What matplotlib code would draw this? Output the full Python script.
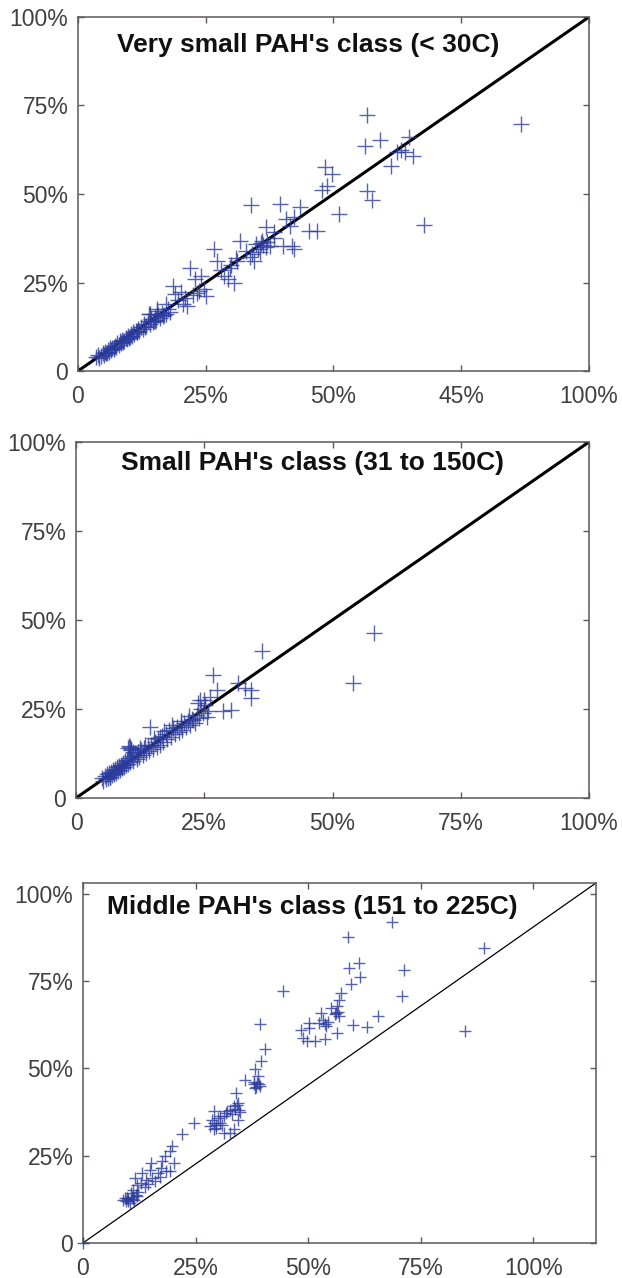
import numpy as np
import matplotlib.pyplot as plt

# 数据：每个面板的散点 (x, y)，按图读数估计
x_very_small = [0.035, 0.040, 0.045, 0.048, 0.050, 0.053, 0.055, 0.058, 0.060, 0.062,
                0.065, 0.067, 0.070, 0.072, 0.075, 0.077, 0.080, 0.082, 0.085, 0.087,
                0.090, 0.093, 0.095, 0.098, 0.100, 0.103, 0.105, 0.108, 0.110, 0.113,
                0.115, 0.118, 0.120, 0.124, 0.127, 0.130, 0.133, 0.137, 0.140, 0.143,
                0.146, 0.150, 0.153, 0.157, 0.160, 0.165, 0.168, 0.172, 0.140, 0.155,
                0.176, 0.180, 0.042, 0.057, 0.071, 0.088, 0.102, 0.116, 0.131, 0.148,
                0.185, 0.201, 0.189, 0.205, 0.173, 0.213, 0.154, 0.138, 0.166, 0.150, 0.195,
                0.220, 0.228, 0.240, 0.251, 0.236, 0.247, 0.232, 0.210, 0.225,
                0.267, 0.273, 0.298, 0.286, 0.306, 0.294, 0.280, 0.300, 0.310,
                0.348, 0.360, 0.368, 0.356, 0.344, 0.337, 0.317, 0.311, 0.329, 0.376,
                0.383, 0.352, 0.362, 0.340, 0.370, 0.358,
                0.339, 0.368, 0.383, 0.395, 0.407, 0.422, 0.415, 0.402, 0.418, 0.422,
                0.434, 0.452, 0.467,
                0.483, 0.498, 0.477, 0.488, 0.510,
                0.566, 0.561, 0.592, 0.566, 0.576,
                0.613, 0.624, 0.648, 0.639, 0.656, 0.632,
                0.677, 0.866]
y_very_small = [0.040, 0.045, 0.042, 0.052, 0.046, 0.055, 0.050, 0.060, 0.054, 0.065,
                0.058, 0.066, 0.063, 0.072, 0.068, 0.078, 0.073, 0.084, 0.079, 0.088,
                0.084, 0.094, 0.089, 0.100, 0.094, 0.105, 0.099, 0.110, 0.104, 0.114,
                0.109, 0.120, 0.114, 0.125, 0.119, 0.133, 0.126, 0.140, 0.133, 0.147,
                0.138, 0.152, 0.145, 0.158, 0.150, 0.165, 0.157, 0.160, 0.160, 0.170,
                0.175, 0.168, 0.036, 0.051, 0.066, 0.081, 0.095, 0.110, 0.124, 0.140,
                0.241, 0.222, 0.217, 0.189, 0.189, 0.184, 0.175, 0.160, 0.156, 0.142, 0.200,
                0.292, 0.259, 0.269, 0.212, 0.226, 0.231, 0.219, 0.205, 0.215,
                0.344, 0.311, 0.292, 0.269, 0.250, 0.259, 0.285, 0.300, 0.320,
                0.358, 0.368, 0.349, 0.335, 0.311, 0.321, 0.368, 0.311, 0.340, 0.354,
                0.377, 0.345, 0.356, 0.330, 0.365, 0.362,
                0.470, 0.406, 0.392, 0.472, 0.429, 0.434, 0.410, 0.354, 0.354, 0.344,
                0.462, 0.396, 0.396,
                0.577, 0.557, 0.511, 0.524, 0.443,
                0.722, 0.635, 0.653, 0.509, 0.484,
                0.580, 0.618, 0.660, 0.618, 0.608, 0.623,
                0.412, 0.698]

x_small = [0.050, 0.053, 0.056, 0.058, 0.060, 0.062, 0.064, 0.066, 0.068, 0.070,
           0.072, 0.074, 0.076, 0.078, 0.080, 0.082, 0.084, 0.086, 0.088, 0.090,
           0.092, 0.094, 0.096, 0.098, 0.100, 0.102, 0.104, 0.106, 0.105, 0.108,
           0.110, 0.112, 0.115, 0.118, 0.120, 0.123, 0.126, 0.130, 0.133, 0.136,
           0.140, 0.144, 0.143, 0.147, 0.150, 0.154, 0.157, 0.160, 0.164, 0.163,
           0.168, 0.170, 0.175, 0.178, 0.182, 0.186, 0.190, 0.193, 0.196, 0.200,
           0.204, 0.207, 0.211, 0.215, 0.218, 0.222, 0.226, 0.229, 0.232, 0.236,
           0.240, 0.242, 0.244, 0.248, 0.252, 0.255, 0.258, 0.268, 0.275, 0.286,
           0.302, 0.316, 0.329, 0.341, 0.341, 0.363, 0.540, 0.580,
           0.101, 0.104, 0.108, 0.112, 0.118, 0.125, 0.135, 0.152, 0.172, 0.188,
           0.205, 0.220, 0.238, 0.250, 0.262, 0.090, 0.075, 0.066]
y_small = [0.055, 0.048, 0.062, 0.052, 0.066, 0.056, 0.070, 0.060, 0.074, 0.064,
           0.078, 0.067, 0.082, 0.071, 0.086, 0.075, 0.090, 0.079, 0.094, 0.083,
           0.098, 0.087, 0.103, 0.092, 0.108, 0.096, 0.112, 0.100, 0.144, 0.135,
           0.118, 0.104, 0.125, 0.110, 0.130, 0.115, 0.135, 0.120, 0.140, 0.126,
           0.146, 0.200, 0.132, 0.150, 0.138, 0.158, 0.144, 0.165, 0.172, 0.150,
           0.175, 0.158, 0.180, 0.165, 0.190, 0.172, 0.196, 0.180, 0.200, 0.186,
           0.206, 0.192, 0.212, 0.198, 0.216, 0.205, 0.222, 0.219, 0.210, 0.232,
           0.225, 0.275, 0.250, 0.238, 0.262, 0.228, 0.245, 0.346, 0.304, 0.243,
           0.248, 0.323, 0.309, 0.304, 0.281, 0.412, 0.323, 0.463,
           0.140, 0.146, 0.138, 0.128, 0.122, 0.140, 0.150, 0.168, 0.188, 0.205,
           0.215, 0.230, 0.268, 0.275, 0.285, 0.088, 0.072, 0.060]

x_middle = [0.000,
            0.088, 0.093, 0.097, 0.101, 0.106, 0.110, 0.110, 0.115, 0.119, 0.119,
            0.128, 0.132, 0.141, 0.148, 0.150, 0.154, 0.167, 0.174, 0.176, 0.183,
            0.194, 0.194, 0.198, 0.203, 0.220, 0.247,
            0.282, 0.286, 0.291, 0.291, 0.295, 0.304, 0.308, 0.313, 0.317, 0.326,
            0.326, 0.335, 0.335, 0.339, 0.344, 0.344, 0.348,
            0.359, 0.379, 0.383, 0.383, 0.386, 0.388, 0.392, 0.392, 0.396, 0.405,
            0.445,
            0.485, 0.489, 0.498, 0.502, 0.502, 0.515, 0.524, 0.529, 0.533, 0.537,
            0.537, 0.551, 0.564, 0.564, 0.562, 0.568, 0.568, 0.573,
            0.589, 0.590, 0.594, 0.599, 0.612, 0.615, 0.630, 0.656, 0.687,
            0.709, 0.712, 0.848, 0.890,
            0.095, 0.100, 0.104, 0.108, 0.113, 0.117, 0.123, 0.137, 0.145, 0.160,
            0.172, 0.185, 0.290, 0.296, 0.300, 0.305, 0.312, 0.320, 0.330, 0.338,
            0.342, 0.346, 0.380, 0.384, 0.390, 0.560, 0.566, 0.540, 0.545]
y_middle = [0.000,
            0.124, 0.129, 0.129, 0.119, 0.143, 0.153, 0.126, 0.186, 0.167, 0.134,
            0.172, 0.201, 0.181, 0.210, 0.229, 0.186, 0.201, 0.215, 0.234, 0.248,
            0.263, 0.205, 0.277, 0.229, 0.313, 0.344,
            0.334, 0.353, 0.377, 0.325, 0.339, 0.363, 0.339, 0.315, 0.372, 0.382,
            0.315, 0.392, 0.325, 0.430, 0.401, 0.353, 0.374,
            0.466, 0.454, 0.497, 0.444, 0.458, 0.478, 0.449, 0.626, 0.521, 0.556,
            0.721,
            0.611, 0.587, 0.578, 0.630, 0.616, 0.578, 0.630, 0.659, 0.640, 0.626,
            0.585, 0.673, 0.678, 0.602, 0.659, 0.697, 0.651, 0.716,
            0.876, 0.788, 0.743, 0.623, 0.802, 0.761, 0.618, 0.650, 0.919,
            0.707, 0.783, 0.606, 0.845,
            0.120, 0.125, 0.115, 0.132, 0.122, 0.138, 0.145, 0.160, 0.170, 0.178,
            0.190, 0.205, 0.345, 0.330, 0.358, 0.345, 0.365, 0.378, 0.368, 0.385,
            0.395, 0.380, 0.460, 0.448, 0.455, 0.655, 0.662, 0.622, 0.632]

titles = ["Very small PAH's class (< 30C)",
          "Small PAH's class (31 to 150C)",
          "Middle PAH's class (151 to 225C)"]
tick_vals = [0, 0.25, 0.5, 0.75, 1.0]
xtick_labels_1 = ['0', '25%', '50%', '45%', '100%']
tick_labels = ['0', '25%', '50%', '75%', '100%']

plt.rcParams['font.family'] = ['Liberation Sans', 'DejaVu Sans']

fig = plt.figure(figsize=(6.22, 12.78), dpi=100)
frame_col = '#5e5858'
blue = '#2c3c9e'

panels = [
    # (rect, x, y, title, title pos, xticklabels, xlim, ylim, line width, marker size)
    ([0.1254, 0.7097, 0.8215, 0.2770], x_very_small, y_very_small, titles[0], (0.451, 0.921),
     xtick_labels_1, (0, 1), (0, 1), 2.2, 11),
    ([0.1222, 0.3756, 0.8248, 0.2786], x_small, y_small, titles[1], (0.461, 0.941),
     tick_labels, (0, 1), (0, 1), 2.2, 11),
    ([0.1334, 0.0274, 0.8248, 0.2817], x_middle, y_middle, titles[2], (0.447, 0.933),
     tick_labels, (0, 1.139), (0, 1.031), 0.9, 8),
]

for rect, xs, ys, title, tpos, xlabels, xlim, ylim, lw, ms in panels:
    ax = fig.add_axes(rect)
    ax.plot(xs, ys, linestyle='none', marker='+', color=blue, markersize=ms,
            markeredgewidth=1.0, alpha=0.8, clip_on=False, zorder=3)
    # 对角参考线（从左下角到右上角）
    ax.plot([0, 1], [0, 1], transform=ax.transAxes, color='black', linewidth=lw, zorder=2)
    ax.set_xlim(*xlim)
    ax.set_ylim(*ylim)
    ax.set_xticks(tick_vals)
    ax.set_xticklabels(xlabels)
    ax.set_yticks(tick_vals)
    ax.set_yticklabels(tick_labels)
    ax.tick_params(direction='in', length=4, width=1.0, color=frame_col,
                   top=True, right=True, labelsize=16.5, labelcolor='#404040')
    ax.tick_params(axis='x', pad=10)
    ax.tick_params(axis='y', pad=7)
    for sp in ax.spines.values():
        sp.set_color(frame_col)
        sp.set_linewidth(1.1)
    ax.text(tpos[0], tpos[1], title, transform=ax.transAxes, ha='center', va='center',
            fontsize=19, fontweight='bold', color='#111111')

fig.savefig('out.png', dpi=100)
